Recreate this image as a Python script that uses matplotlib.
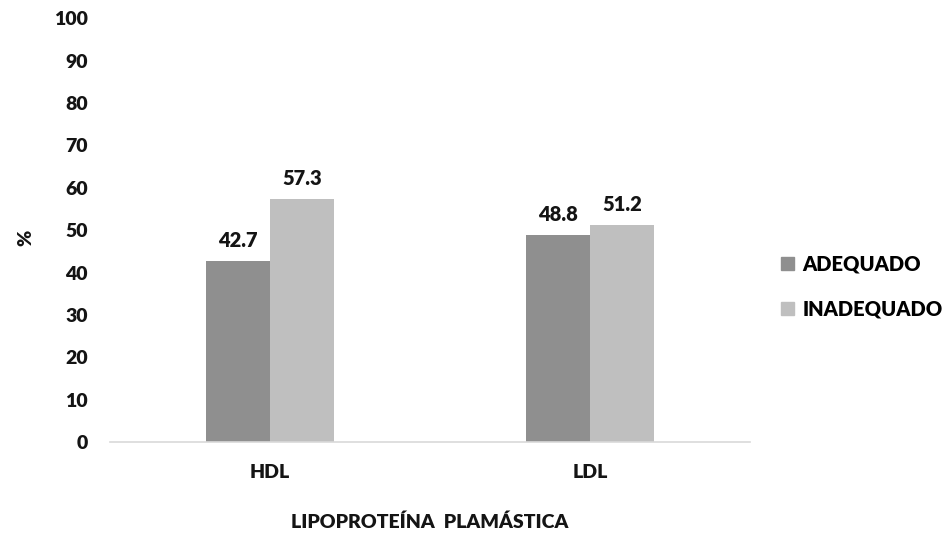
import numpy as np
import matplotlib
matplotlib.use("Agg")
from matplotlib import pyplot as plt
from matplotlib.patches import Patch

# Dados
categorias = ['HDL', 'LDL']
adequado = [42.7, 48.8]
inadequado = [57.3, 51.2]
series = ['ADEQUADO', 'INADEQUADO']
cores = ['#8f8f8f', '#bfbfbf']

plt.rcParams['font.family'] = ['Lato', 'DejaVu Sans']
plt.rcParams['font.weight'] = 'heavy'
peso = 'heavy'
tinta = '#141414'

fig = plt.figure(figsize=(9.48, 5.36), dpi=100)
ax = fig.add_axes([0.116, 0.175, 0.675, 0.791])

x = np.arange(len(categorias))
largura = 0.2
b1 = ax.bar(x - largura / 2, adequado, largura, color=cores[0], label=series[0])
b2 = ax.bar(x + largura / 2, inadequado, largura, color=cores[1], label=series[1])

for barras in (b1, b2):
    for b in barras:
        ax.annotate(f'{b.get_height():.1f}',
                    (b.get_x() + b.get_width() / 2, b.get_height()),
                    xytext=(0, 8), textcoords='offset points',
                    ha='center', va='bottom', fontsize=14.5, fontweight=peso,
                    color=tinta)

ax.set_xlim(-0.5, 1.5)
ax.set_ylim(0, 100)
ax.set_yticks(range(0, 101, 10))
ax.set_xticks(x)
ax.set_xticklabels(categorias)
ax.tick_params(length=0, labelsize=14, colors=tinta)
ax.tick_params(axis='y', pad=16)
ax.tick_params(axis='x', pad=16)
for lab in ax.get_xticklabels() + ax.get_yticklabels():
    lab.set_fontweight(peso)

for s in ['top', 'right', 'left']:
    ax.spines[s].set_visible(False)
ax.spines['bottom'].set_color('#d9d9d9')
ax.spines['bottom'].set_linewidth(1.2)

ax.set_ylabel('%', fontsize=14, fontweight=peso, color=tinta)
ax.yaxis.set_label_coords(-0.118, 0.483)
ax.set_xlabel('LIPOPROTEÍNA  PLAMÁSTICA', fontsize=14, fontweight=peso,
              color=tinta, labelpad=23)

handles = [Patch(color=c, label=s) for c, s in zip(cores, series)]
fig.legend(handles=handles, loc='center left', bbox_to_anchor=(0.805, 0.465),
           frameon=False, fontsize=14.5, handlelength=0.65, handleheight=0.65,
           handletextpad=0.4, labelspacing=1.3)

fig.savefig('out.png', dpi=100)
